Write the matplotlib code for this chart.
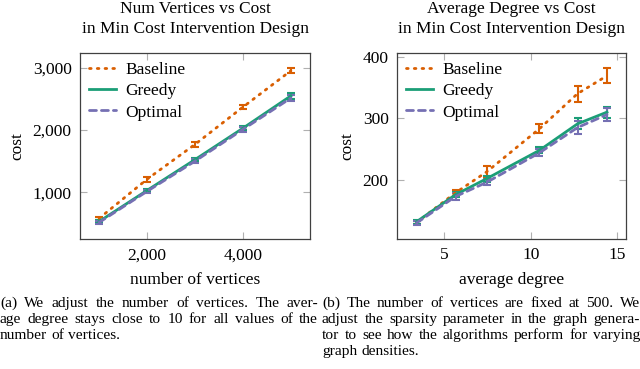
import matplotlib
matplotlib.use("Agg")
import matplotlib.pyplot as plt
from matplotlib.lines import Line2D
from matplotlib.ticker import FuncFormatter

plt.rcParams["font.family"] = ["Liberation Serif", "DejaVu Serif"]

BASE_C = "#d95f02"
GREEDY_C = "#1b9e77"
OPT_C = "#7570b3"

# (a) cost vs number of vertices
vertices = [1000, 2000, 3000, 4000, 5000]
v_baseline = [580, 1210, 1770, 2370, 2955]
v_baseline_err = [25, 40, 37, 35, 40]
v_greedy = [530, 1030, 1525, 2030, 2550]
v_greedy_err = [20, 25, 30, 35, 45]
v_optimal = [515, 1015, 1500, 2010, 2515]
v_optimal_err = [20, 25, 30, 35, 45]

# (b) cost vs average degree (500 vertices)
degree = [3.4, 5.65, 7.45, 10.5, 12.7, 14.4]
d_baseline = [131, 179, 213, 283, 340, 369]
d_baseline_err = [3, 5, 9, 7, 13, 12]
d_greedy = [132, 176, 202, 248, 291, 310]
d_greedy_err = [3, 4, 5, 5, 9, 9]
d_optimal = [130, 173, 196, 244, 285, 306]
d_optimal_err = [3, 5, 5, 6, 10, 10]

TITLES = ["Num Vertices vs Cost\nin Min Cost Intervention Design",
          "Average Degree vs Cost\nin Min Cost Intervention Design"]
XLABELS = ["number of vertices", "average degree"]
CAPTIONS = [
    ["(a) We adjust the number of vertices. The aver-",
     "age degree stays close to 10 for all values of the",
     "number of vertices."],
    ["(b) The number of vertices are fixed at 500. We",
     "adjust the sparsity parameter in the graph genera-",
     "tor to see how the algorithms perform for varying",
     "graph densities."],
]

W, H = 640, 369
fig = plt.figure(figsize=(6.4, 3.69), dpi=100)


def px_axes(x0, y0, x1, y1):
    return fig.add_axes([x0 / W, 1 - y1 / H, (x1 - x0) / W, (y1 - y0) / H])


ax1 = px_axes(80, 53, 310, 239)
ax2 = px_axes(397, 53, 626, 239)

FS = 12.5
DOT = (0, (0.6, 2.2))
DASH = (0, (2.5, 1.8))


def draw(ax, x, series):
    handles = []
    for y, err, color, ls, label in series:
        ax.errorbar(x, y, yerr=err, color=color, ls=ls, lw=2.0,
                    capsize=3, capthick=1.5, elinewidth=1.5,
                    dash_capstyle="round")
        handles.append(Line2D([0], [0], color=color, ls=ls, lw=2.0,
                              dash_capstyle="round", label=label))
    return handles


h1 = draw(ax1, vertices, [
    (v_baseline, v_baseline_err, BASE_C, DOT, "Baseline"),
    (v_greedy, v_greedy_err, GREEDY_C, "-", "Greedy"),
    (v_optimal, v_optimal_err, OPT_C, DASH, "Optimal"),
])
h2 = draw(ax2, degree, [
    (d_baseline, d_baseline_err, BASE_C, DOT, "Baseline"),
    (d_greedy, d_greedy_err, GREEDY_C, "-", "Greedy"),
    (d_optimal, d_optimal_err, OPT_C, DASH, "Optimal"),
])

ax1.set_xlim(600, 5400)
ax1.set_ylim(248, 3240)
ax1.set_xticks([2000, 4000])
ax1.set_yticks([1000, 2000, 3000])
comma = FuncFormatter(lambda v, p: f"{v:,.0f}")
ax1.xaxis.set_major_formatter(comma)
ax1.yaxis.set_major_formatter(comma)

ax2.set_xlim(2.27, 15.5)
ax2.set_ylim(104, 406)
ax2.set_xticks([5, 10, 15])
ax2.set_yticks([200, 300, 400])

for i, (ax, hs) in enumerate([(ax1, h1), (ax2, h2)]):
    ax.tick_params(direction="in", length=5, width=0.8, color="#b0b0b0",
                   top=True, right=True, labelsize=FS, pad=6)
    for s in ax.spines.values():
        s.set_linewidth(0.9)
        s.set_color("#404040")
    ax.set_xlabel(XLABELS[i], fontsize=FS, labelpad=6)
    ax.set_ylabel("cost", fontsize=FS, labelpad=5)
    ax.legend(handles=hs, loc="upper left", frameon=False, fontsize=FS,
              handlelength=1.6, handletextpad=0.5, labelspacing=0.3,
              borderaxespad=0.1)
    cx = (ax.get_position().x0 + ax.get_position().x1) / 2
    fig.text(cx, 1 - 33 / H, TITLES[i], ha="center", va="baseline",
             fontsize=FS, linespacing=1.3)

# captions, justified like the LaTeX source
renderer = fig.canvas.get_renderer()
CAP_FS = 11.1
for lines, x0 in zip(CAPTIONS, [0, 322]):
    target = 318
    space = fig.text(0, 0, "a a", fontsize=CAP_FS)
    aw = fig.text(0, 0, "aa", fontsize=CAP_FS)
    natural = (space.get_window_extent(renderer).width
               - aw.get_window_extent(renderer).width)
    space.remove()
    aw.remove()
    for k, line in enumerate(lines):
        yb = 1 - (307 + 16 * k) / H
        words = line.split(" ")
        last = k == len(lines) - 1
        texts = [fig.text(0, yb, w, fontsize=CAP_FS, va="baseline")
                 for w in words]
        widths = [t.get_window_extent(renderer).width for t in texts]
        if last:
            gap = natural
        else:
            gap = max((target - sum(widths)) / (len(words) - 1), 0.8 * natural)
        x = x0
        for t, w in zip(texts, widths):
            t.set_x(x / W)
            x += w + gap

fig.savefig("out.png", dpi=100)
